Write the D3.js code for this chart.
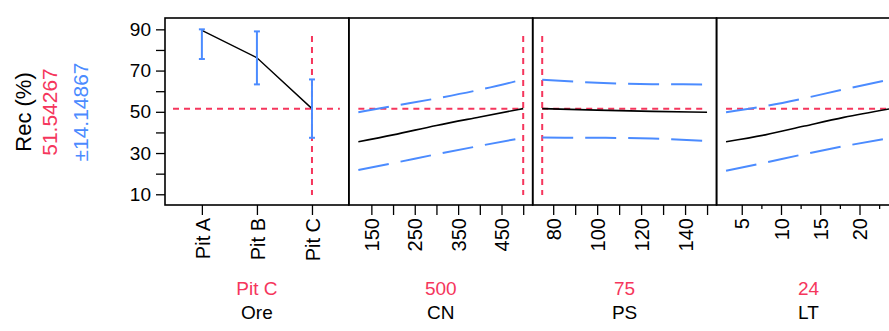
<!DOCTYPE html>
<html>
<head>
<meta charset="utf-8">
<script src="https://cdn.jsdelivr.net/npm/d3@7"></script>
<style>
  body { margin: 0; background: #fff; }
  svg text { font-family: "Liberation Sans", Arial, sans-serif; }
</style>
</head>
<body>
<svg id="chart" width="889" height="331"></svg>
<script>
// response
const responseName = "Rec (%)";
const predicted = 51.54267;
const halfWidth = 14.14867;
const yTicks = [10, 20, 30, 40, 50, 60, 70, 80, 90];
const yLabels = [10, 30, 50, 70, 90];

// Ore (categorical)
const oreLevels = ["Pit A", "Pit B", "Pit C"];
const orePred = [89.5, 76.2, 51.54];
const oreLower = [75.6, 63.3, 37.4];
const oreUpper = [90.0, 89.0, 65.7];

// CN
const cnLevels = [120, 200, 300, 400, 500];
const cnPred = [35.5, 38.8, 43.4, 47.5, 51.54];
const cnUpper = [49.8, 52.8, 56.5, 60.7, 65.7];
const cnLower = [21.8, 25.1, 29.4, 33.5, 37.4];
const cnTicks = [150, 200, 250, 300, 350, 400, 450, 500];
const cnLabels = [150, 250, 350, 450];

// PS
const psLevels = [75, 100, 125, 150];
const psPred = [51.54, 50.8, 50.2, 49.8];
const psUpper = [65.6, 64.1, 63.4, 63.3];
const psLower = [37.5, 37.4, 37.0, 35.8];
const psTicks = [80, 90, 100, 110, 120, 130, 140, 150];
const psLabels = [80, 100, 120, 140];

// LT
const ltLevels = [3, 8, 13, 18, 24];
const ltPred = [35.5, 38.8, 43.1, 47.3, 51.54];
const ltUpper = [49.8, 52.8, 56.6, 60.9, 65.7];
const ltLower = [21.4, 25.4, 29.5, 33.3, 37.4];
const ltTicks = [5, 7.5, 10, 12.5, 15, 17.5, 20, 22.5];
const ltLabels = [5, 10, 15, 20];

const current = ["Pit C", "500", "75", "24"];
const factorNames = ["Ore", "CN", "PS", "LT"];

const svg = d3.select("#chart");
const red = "#f5365c";
const blue = "#4b8bff";

const plotTop = 18, plotBottom = 205;
const left0 = 165, panelW = 183.85;
const pad = 9.5;

const y = d3.scaleLinear().domain([4.8, 95.5]).range([plotBottom, plotTop]);

function panelLeft(i) { return left0 + i * panelW; }

// y axis
const yAxis = svg.append("g")
  .attr("transform", "translate(" + left0 + ",0)")
  .call(d3.axisLeft(y)
    .tickValues(yTicks)
    .tickSize(9)
    .tickPadding(5)
    .tickFormat(d => yLabels.includes(d) ? d : ""));
yAxis.select(".domain").remove();
yAxis.selectAll("line").attr("stroke", "#000").attr("stroke-width", 1.3);
yAxis.selectAll("text").attr("font-size", "19px").attr("fill", "#000");

// left labels
const labelY = 112;
[[responseName, 31, "#000", 22], [predicted.toFixed(5), 57, red, 21], ["\u00b1" + halfWidth.toFixed(5), 88, blue, 21]]
  .forEach(l => {
    svg.append("text")
      .attr("transform", "translate(" + l[1] + "," + labelY + ") rotate(-90)")
      .attr("text-anchor", "middle")
      .attr("font-size", l[3] + "px")
      .attr("fill", l[2])
      .text(l[0]);
  });

function bottomAxis(i, scale, ticks, labels, minorTicks) {
  const g = svg.append("g")
    .attr("transform", "translate(0," + plotBottom + ")")
    .call(d3.axisBottom(scale)
      .tickValues(ticks)
      .tickSize(10)
      .tickFormat(d => labels.includes(d) ? d : ""));
  g.select(".domain").remove();
  g.selectAll("line").attr("stroke", "#000").attr("stroke-width", 1.3);
  if (minorTicks) {
    g.selectAll(".tick").filter(d => !labels.includes(d))
      .select("line").attr("y2", 4);
  }
  g.selectAll("text")
    .attr("transform", "rotate(-90)")
    .attr("x", -13)
    .attr("y", 0)
    .attr("dy", "0.36em")
    .attr("text-anchor", "end")
    .attr("font-size", "20px")
    .attr("fill", "#000");

  const cx = panelLeft(i) + panelW / 2;
  svg.append("text")
    .attr("x", cx).attr("y", 295)
    .attr("text-anchor", "middle")
    .attr("font-size", "19px")
    .attr("fill", red)
    .text(current[i]);
  svg.append("text")
    .attr("x", cx).attr("y", 318.5)
    .attr("text-anchor", "middle")
    .attr("font-size", "19px")
    .attr("fill", "#000")
    .text(factorNames[i]);
}

function redLines(x1, x2, vx) {
  svg.append("line")
    .attr("x1", x1).attr("x2", x2)
    .attr("y1", y(predicted)).attr("y2", y(predicted))
    .attr("stroke", red).attr("stroke-width", 2)
    .attr("stroke-dasharray", "6,5");
  if (vx !== null) {
    svg.append("line")
      .attr("x1", vx).attr("x2", vx)
      .attr("y1", plotTop + 18).attr("y2", plotBottom - 10)
      .attr("stroke", red).attr("stroke-width", 2)
      .attr("stroke-dasharray", "6,5");
  }
}

function continuousPanel(i, levels, pred, upper, lower, ticks, labels, minorTicks, cur) {
  const x = d3.scaleLinear()
    .domain([levels[0], levels[levels.length - 1]])
    .range([panelLeft(i) + pad, panelLeft(i + 1) - pad]);
  const line = d3.line()
    .x(d => x(d[0]))
    .y(d => y(d[1]))
    .curve(d3.curveMonotoneX);

  redLines(x(levels[0]), x(levels[levels.length - 1]), x(cur) < panelLeft(i + 1) ? x(cur) : null);

  [upper, lower].forEach(band => {
    svg.append("path")
      .attr("d", line(levels.map((v, k) => [v, band[k]])))
      .attr("fill", "none")
      .attr("stroke", blue)
      .attr("stroke-width", 2)
      .attr("stroke-dasharray", "31,12");
  });
  svg.append("path")
    .attr("d", line(levels.map((v, k) => [v, pred[k]])))
    .attr("fill", "none")
    .attr("stroke", "#000")
    .attr("stroke-width", 1.6);

  bottomAxis(i, x, ticks, labels, minorTicks);
}

// Ore panel
const xOre = d3.scalePoint()
  .domain(oreLevels)
  .range([panelLeft(0), panelLeft(1)])
  .padding(0.67);

redLines(panelLeft(0) + 8, panelLeft(1) - 9, xOre("Pit C"));

svg.append("path")
  .attr("d", d3.line()(oreLevels.map((c, k) => [xOre(c), y(orePred[k])])))
  .attr("fill", "none")
  .attr("stroke", "#000")
  .attr("stroke-width", 1.4);

oreLevels.forEach((c, k) => {
  const cx = xOre(c);
  svg.append("line")
    .attr("x1", cx).attr("x2", cx)
    .attr("y1", y(oreLower[k])).attr("y2", y(oreUpper[k]))
    .attr("stroke", blue).attr("stroke-width", 2);
  [oreLower[k], oreUpper[k]].forEach(v => {
    svg.append("line")
      .attr("x1", cx - 3).attr("x2", cx + 3)
      .attr("y1", y(v)).attr("y2", y(v))
      .attr("stroke", blue).attr("stroke-width", 2);
  });
});
bottomAxis(0, xOre, oreLevels, oreLevels, false);

continuousPanel(1, cnLevels, cnPred, cnUpper, cnLower, cnTicks, cnLabels, false, 500);
continuousPanel(2, psLevels, psPred, psUpper, psLower, psTicks, psLabels, false, 75);
continuousPanel(3, ltLevels, ltPred, ltUpper, ltLower, ltTicks, ltLabels, true, 24);

// frames
for (let i = 0; i < 4; i++) {
  svg.append("rect")
    .attr("x", panelLeft(i))
    .attr("y", plotTop)
    .attr("width", panelW)
    .attr("height", plotBottom - plotTop)
    .attr("fill", "none")
    .attr("stroke", "#000")
    .attr("stroke-width", 1.6);
}
</script>
</body>
</html>
